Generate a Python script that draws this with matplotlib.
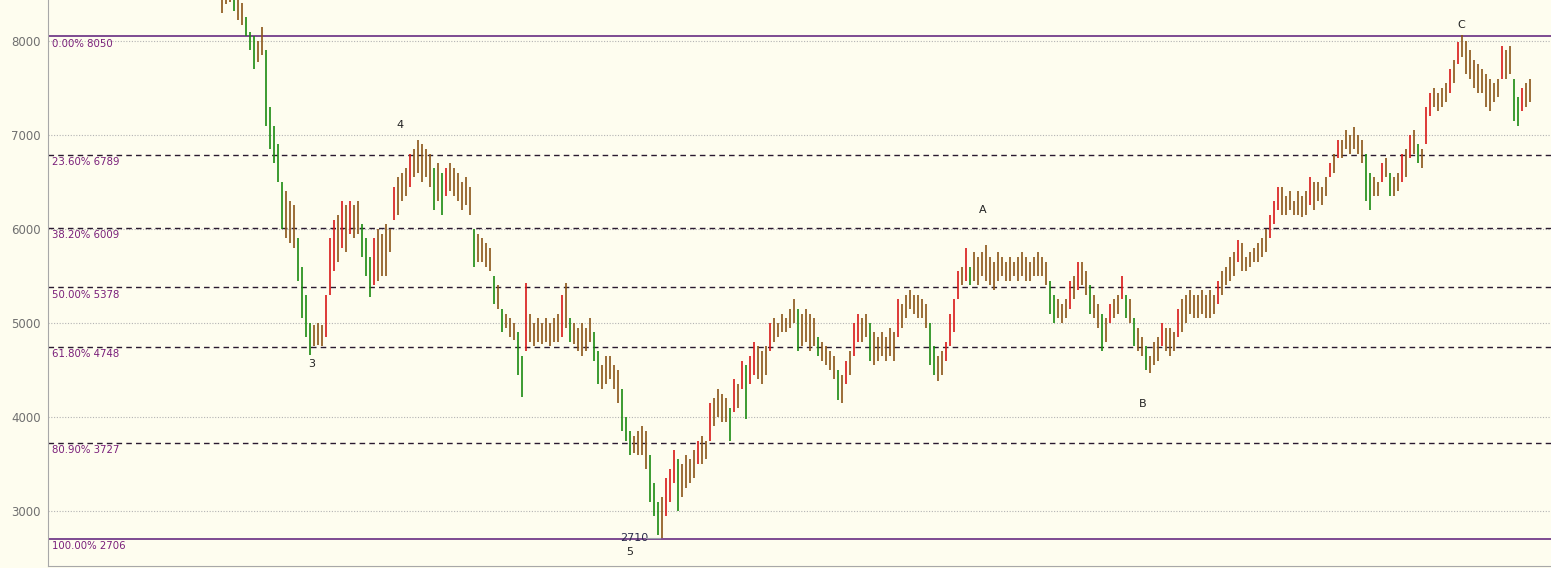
import matplotlib.pyplot as plt
import numpy as np

# price bars (high / low), one every bar
highs = [
    8600, 8550, 8650, 8500, 8450, 8400, 8250, 8100, 8050, 8000,
    8150, 7900, 7300, 7100, 6900, 6500, 6400, 6300, 6250, 5900,
    5600, 5300, 5000, 4980, 5000, 4980, 5300, 5900, 6100, 6150,
    6300, 6250, 6300, 6250, 6300, 6050, 5900, 5700, 5900, 6000,
    5950, 6050, 6000, 6450, 6550, 6600, 6650, 6800, 6850, 6950,
    6900, 6850, 6800, 6650, 6700, 6600, 6650, 6700, 6650, 6600,
    6500, 6550, 6450, 6000, 5950, 5900, 5850, 5800, 5500, 5400,
    5150, 5100, 5050, 5000, 4900, 4650, 5430, 5100, 5000, 5050,
    5000, 5050, 5000, 5050, 5100, 5300, 5430, 5050, 5000, 4950,
    5000, 4950, 5050, 4900, 4700, 4550, 4650, 4650, 4550, 4500,
    4300, 4000, 3850, 3800, 3850, 3900, 3850, 3600, 3300, 3100,
    3150, 3350, 3450, 3650, 3550, 3500, 3600, 3550, 3650, 3750,
    3800, 3750, 4150, 4200, 4300, 4250, 4200, 4100, 4400, 4350,
    4600, 4550, 4650, 4800, 4750, 4700, 4750, 5000, 5050, 5000,
    5100, 5050, 5150, 5250, 5150, 5100, 5150, 5100, 5050, 4850,
    4800, 4750, 4700, 4650, 4500, 4450, 4600, 4700, 5000, 5100,
    5050, 5100, 5000, 4900, 4850, 4900, 4850, 4950, 4900, 5250,
    5200, 5300, 5350, 5300, 5300, 5250, 5200, 5000, 4750, 4650,
    4700, 4800, 5100, 5250, 5550, 5600, 5800, 5600, 5750, 5700,
    5750, 5830, 5700, 5650, 5750, 5700, 5650, 5700, 5650, 5700,
    5750, 5700, 5650, 5700, 5750, 5700, 5650, 5450, 5300, 5250,
    5200, 5250, 5450, 5500, 5650, 5650, 5550, 5400, 5300, 5200,
    5100, 5050, 5200, 5250, 5300, 5500, 5300, 5250, 5050, 4950,
    4850, 4750, 4650, 4800, 4850, 5000, 4950, 4950, 4900, 5150,
    5250, 5300, 5350, 5300, 5300, 5350, 5300, 5350, 5300, 5450,
    5550, 5600, 5700, 5750, 5880, 5850, 5700, 5750, 5800, 5850,
    5900, 6000, 6150, 6300, 6450, 6450, 6350, 6400, 6300, 6400,
    6350, 6400, 6550, 6500, 6500, 6450, 6550, 6700, 6800, 6950,
    6950, 7050, 7000, 7080, 7000, 6950, 6800, 6600, 6550, 6500,
    6700, 6750, 6600, 6550, 6600, 6800, 6850, 7000, 7050, 6900,
    6850, 7300, 7450, 7500, 7450, 7500, 7550, 7700, 7800, 7990,
    8060, 8000, 7900, 7800, 7750, 7700, 7650, 7600, 7550, 7600,
    7950, 7900, 7950, 7600, 7400, 7500, 7550, 7600,
]
lows = [
    8300, 8390, 8420, 8320, 8220, 8170, 8050, 7900, 7700, 7780,
    7850, 7100, 6850, 6700, 6500, 6000, 5900, 5850, 5800, 5450,
    5050, 4850, 4660, 4750, 4770, 4760, 4850, 5300, 5550, 5650,
    5800, 5750, 5950, 5900, 5950, 5700, 5500, 5280, 5400, 5450,
    5500, 5500, 5750, 6100, 6150, 6300, 6350, 6450, 6550, 6600,
    6500, 6550, 6450, 6200, 6300, 6150, 6350, 6400, 6350, 6300,
    6200, 6250, 6150, 5600, 5650, 5650, 5600, 5550, 5200, 5150,
    4900, 4950, 4850, 4820, 4450, 4210, 4700, 4800, 4750, 4800,
    4780, 4800, 4750, 4800, 4800, 4850, 4950, 4800, 4780, 4700,
    4650, 4700, 4800, 4600, 4350, 4300, 4350, 4400, 4300, 4150,
    3850, 3750, 3600, 3620, 3600, 3600, 3450, 3100, 2950, 2750,
    2710, 2950, 3100, 3300, 3000, 3150, 3250, 3300, 3350, 3500,
    3500, 3550, 3750, 3900, 4000, 3950, 3950, 3750, 4050, 4100,
    4300, 3980, 4350, 4450, 4400, 4350, 4450, 4700, 4800, 4850,
    4900, 4900, 4950, 5000, 4700, 4750, 4800, 4700, 4750, 4650,
    4600, 4550, 4500, 4400, 4180, 4150, 4350, 4450, 4650, 4800,
    4800, 4850, 4600, 4550, 4600, 4650, 4600, 4650, 4600, 4850,
    4950, 5050, 5150, 5100, 5050, 5050, 4950, 4550, 4450, 4380,
    4450, 4600, 4750, 4900, 5250, 5400, 5450, 5400, 5450, 5400,
    5500, 5450, 5400, 5350, 5450, 5500, 5450, 5450, 5500, 5450,
    5500, 5450, 5450, 5500, 5500, 5500, 5400, 5100, 5000, 5050,
    5000, 5050, 5150, 5250, 5350, 5400, 5300, 5100, 5050, 4950,
    4700, 4800, 5000, 5050, 5100, 5250, 5050, 5000, 4750, 4700,
    4650, 4500, 4470, 4550, 4600, 4750, 4700, 4650, 4700, 4850,
    4900, 5000, 5100, 5050, 5050, 5100, 5050, 5050, 5100, 5200,
    5300, 5400, 5450, 5500, 5650, 5550, 5550, 5600, 5650, 5650,
    5700, 5750, 5900, 6050, 6200, 6150, 6150, 6200, 6150, 6150,
    6130, 6150, 6250, 6200, 6300, 6250, 6350, 6550, 6600, 6750,
    6750, 6850, 6800, 6850, 6800, 6700, 6300, 6200, 6350, 6350,
    6500, 6550, 6350, 6350, 6400, 6500, 6550, 6750, 6800, 6700,
    6650, 6900, 7200, 7300, 7250, 7300, 7350, 7450, 7550, 7750,
    7830, 7650, 7600, 7500, 7450, 7450, 7300, 7250, 7350, 7400,
    7600, 7600, 7650, 7150, 7100, 7250, 7300, 7350,
]

# fibonacci retracement levels
fib_pcts = ["0.00%", "23.60%", "38.20%", "50.00%", "61.80%", "80.90%", "100.00%"]
fib_vals = [8050, 6789, 6009, 5378, 4748, 3727, 2706]

yticks = [3000, 4000, 5000, 6000, 7000, 8000]

# wave labels: text, bar index, price
wave_txt = ["3", "4", "5", "A", "B", "C"]
wave_x = [22.5, 44.5, 102, 190.25, 230.25, 309.75]
wave_y = [4564, 7106, 2564, 6202, 4138, 8170]
low_label = "2710"

highs = np.array(highs)
lows = np.array(lows)
n = len(highs)
xs = np.arange(n)

bg = "#fefdef"
fig = plt.figure(figsize=(15.51, 5.68), dpi=100, facecolor=bg)
ax = fig.add_axes([48 / 1551, 2 / 568, 1503 / 1551, 566 / 568])
ax.set_facecolor(bg)

# bar colours from the move of the midpoint
mids = (highs + lows) / 2
chg = np.diff(mids, prepend=mids[0])
colors = []
for c in chg:
    if c > 120:
        colors.append("#d81818")
    elif c < -120:
        colors.append("#1a8a10")
    else:
        colors.append("#8a5418")

for yv in yticks:
    ax.axhline(yv, color="#b4b4b4", lw=0.8, ls=(0, (1, 1.5)), zorder=1)

for pct, val in zip(fib_pcts, fib_vals):
    if pct in ("0.00%", "100.00%"):
        ax.axhline(val, color="#5a1a78", lw=1.1, zorder=2)
    else:
        ax.axhline(val, color="#2a1a30", lw=1.0, ls=(0, (4, 3)), zorder=2)
    ax.text(-42.5, val - 24, f"{pct} {val}", color="#7a1f7a", fontsize=7.3,
            va="top", ha="left", zorder=4)

ax.vlines(xs, lows, highs, colors=colors, lw=1.2, zorder=3)

for t, x, y in zip(wave_txt, wave_x, wave_y):
    ax.text(x, y, t, fontsize=8, color="#222222", ha="center", va="center", zorder=5)

# low marker
ax.text(103, 2713, low_label, fontsize=8, color="#2a2a4a", ha="center", va="center", zorder=5)
ax.plot([106, 109.5], [2713, 2713], color="#9a9aaa", lw=0.8, zorder=5)

ax.set_xlim(-43.5, 332.25)
ax.set_ylim(2415, 8436)
ax.set_yticks(yticks)
ax.set_yticklabels([str(v) for v in yticks])
ax.tick_params(axis="y", length=0, pad=5, labelsize=8.5, labelcolor="#707070")
ax.tick_params(axis="x", length=0, labelbottom=False)
for s in ("top", "right"):
    ax.spines[s].set_visible(False)
ax.spines["left"].set_color("#a8a8a8")
ax.spines["bottom"].set_color("#a8a8a8")

fig.savefig("out.png", dpi=100, facecolor=bg)
